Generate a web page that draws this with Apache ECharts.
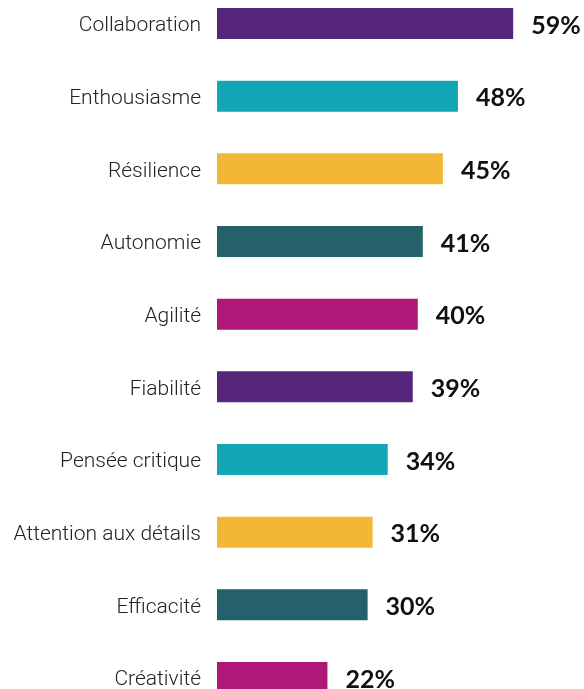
<!DOCTYPE html>
<html>
<head>
<meta charset="utf-8">
<script src="https://cdn.jsdelivr.net/npm/echarts@6/dist/echarts.min.js"></script>
<style>
  html, body { margin: 0; padding: 0; background: #fff; }
  #chart { width: 584px; height: 689px; }
</style>
</head>
<body>
<div id="chart"></div>
<script>
// qualities, top to bottom
var categories = ['Collaboration', 'Enthousiasme', 'Résilience', 'Autonomie', 'Agilité',
  'Fiabilité', 'Pensée critique', 'Attention aux détails', 'Efficacité', 'Créativité'];
var values = [59, 48, 45, 41, 40, 39, 34, 31, 30, 22];
var colors = ['#55267a', '#13a6b4', '#f2b835', '#25616a', '#ae1876',
  '#55267a', '#13a6b4', '#f2b835', '#25616a', '#ae1876'];

var chart = echarts.init(document.getElementById('chart'));

var data = [];
for (var i = 0; i < values.length; i++) {
  data.push({ value: values[i], itemStyle: { color: colors[i] } });
}

chart.setOption({
  animation: false,
  grid: {
    left: 217, top: -12.8, width: 502, height: 726.6,
    outerBoundsMode: 'none',
    containLabel: false
  },
  xAxis: {
    type: 'value',
    min: 0,
    max: 100,
    show: false
  },
  yAxis: {
    type: 'category',
    data: categories,
    inverse: true,
    axisLine: { show: false },
    axisTick: { show: false },
    splitLine: { show: false },
    axisLabel: {
      margin: 16,
      formatter: '{t|{value}}',
      rich: {
        t: {
          padding: [5, 0, 0, 0],
          fontFamily: 'Roboto',
          fontWeight: 300,
          fontSize: 21,
          color: '#222'
        }
      }
    }
  },
  series: [{
    type: 'bar',
    data: data,
    barWidth: 31,
    label: {
      show: true,
      position: 'right',
      distance: 18,
      formatter: '{v|{c}%}',
      rich: {
        v: {
          padding: [4, 0, 0, 0],
          fontFamily: 'Lato',
          fontWeight: 'bold',
          fontSize: 25,
          color: '#111'
        }
      }
    }
  }]
});
</script>
</body>
</html>
